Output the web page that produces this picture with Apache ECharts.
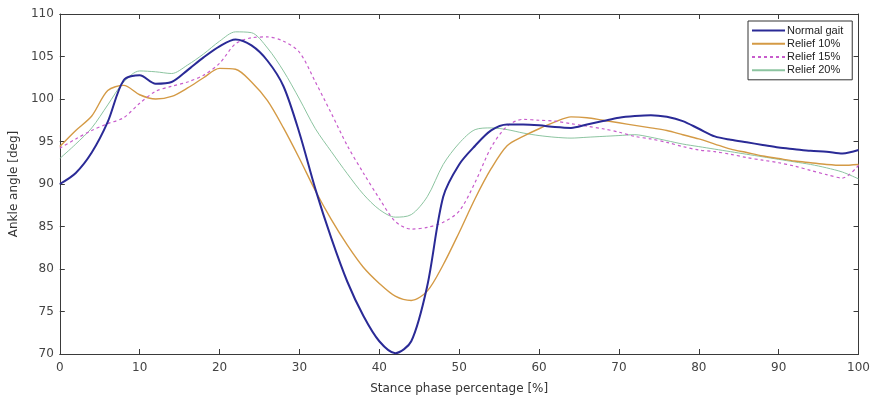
<!DOCTYPE html>
<html>
<head>
<meta charset="utf-8">
<title>Ankle angle</title>
<script src="https://cdn.jsdelivr.net/npm/echarts@6/dist/echarts.min.js"></script>
<style>
  html, body { margin: 0; padding: 0; background: #fff; }
  #chart { width: 873px; height: 402px; }
</style>
</head>
<body>
<div id="chart"></div>
<script>
// stance phase [%], sampled every 2 %
const pct = [0, 2, 4, 6, 8, 10, 12, 14, 16, 18, 20, 22, 24, 26, 28, 30, 32, 34, 36, 38, 40,
  42, 44, 46, 48, 50, 52, 54, 56, 58, 60, 62, 64, 66, 68, 70, 72, 74, 76, 78, 80,
  82, 84, 86, 88, 90, 92, 94, 96, 98, 100];

const normalGait = [90, 91.3, 93.7, 97.3, 102.2, 102.8, 101.8, 102, 103.4, 104.9, 106.2, 107, 106.3, 104.5, 101.5, 96, 89.4, 83.6, 78.5, 74.5, 71.5,
  70.1, 71.5, 78, 88.5, 92.3, 94.5, 96.3, 97, 97, 96.9, 96.7, 96.6, 97, 97.4, 97.8, 98, 98.1, 97.9, 97.4, 96.5,
  95.6, 95.2, 94.9, 94.6, 94.3, 94.1, 93.9, 93.8, 93.6, 94];

const relief10 = [94.4, 96.3, 98, 101, 101.6, 100.5, 100, 100.3, 101.3, 102.5, 103.6, 103.5, 102, 99.8, 96.6, 93, 89.2, 85.8, 82.8, 80.2, 78.3,
  76.8, 76.3, 77.4, 80.5, 84.3, 88.3, 91.8, 94.5, 95.6, 96.5, 97.3, 97.9, 97.8, 97.5, 97.2, 96.9, 96.6, 96.3, 95.8, 95.3,
  94.7, 94.1, 93.7, 93.3, 93, 92.7, 92.5, 92.3, 92.2, 92.3];

const relief15 = [94.2, 95.3, 96.3, 97.1, 97.8, 99.5, 100.9, 101.5, 102, 102.8, 104.2, 106.5, 107.2, 107.3, 106.8, 105.5, 102, 98.3, 94.5, 91.3, 88.3,
  85.6, 84.7, 84.9, 85.5, 86.8, 90.2, 94.3, 96.8, 97.6, 97.5, 97.4, 97.1, 96.8, 96.5, 96.1, 95.6, 95.3, 94.9, 94.4, 94,
  93.8, 93.5, 93.1, 92.8, 92.5, 92.1, 91.6, 91.1, 90.7, 92.2];

const relief20 = [93, 94.7, 96.6, 99.3, 102, 103.3, 103.2, 103, 104, 105.3, 106.8, 107.9, 107.8, 106, 103.3, 100, 96.5, 93.8, 91.2, 88.8, 87,
  86.1, 86.4, 88.5, 92.3, 94.8, 96.4, 96.6, 96.4, 96, 95.7, 95.5, 95.4, 95.5, 95.6, 95.7, 95.8, 95.5, 95.1, 94.7, 94.4,
  94.1, 93.8, 93.5, 93.2, 92.9, 92.6, 92.3, 91.9, 91.4, 90.6];

const names = ["Normal gait", "Relief 10%", "Relief 15%", "Relief 20%"];

const pairs = (vals) => pct.map((p, i) => [p, vals[i]]);

const font = "DejaVu Sans, Verdana, sans-serif";
const legendFont = "Liberation Sans, Arial, sans-serif";
const boxColor = "#3a3a3a";

const chart = echarts.init(document.getElementById("chart"));

const baseX = {
  type: "value",
  min: 0,
  max: 100,
  interval: 10,
  splitLine: { show: false },
  axisLine: { show: true, onZero: false, lineStyle: { color: boxColor, width: 1 } },
  axisTick: { show: true, inside: true, length: 5, lineStyle: { color: boxColor } }
};
const baseY = {
  type: "value",
  min: 70,
  max: 110,
  interval: 5,
  splitLine: { show: false },
  axisLine: { show: true, onZero: false, lineStyle: { color: boxColor, width: 1 } },
  axisTick: { show: true, inside: true, length: 5, lineStyle: { color: boxColor } }
};

const option = {
  backgroundColor: "#fff",
  animation: false,
  grid: { left: 59, right: 11, top: 14, bottom: 48 },
  legend: {
    orient: "vertical",
    left: 748,
    top: 21,
    padding: [4, 9, 4, 3],
    itemGap: 2,
    itemWidth: 33,
    itemHeight: 14,
    itemStyle: { opacity: 0 },
    backgroundColor: "#fff",
    borderColor: "#333",
    borderWidth: 1,
    borderRadius: 0,
    textStyle: { fontFamily: legendFont, fontSize: 11, color: "#222", padding: [0, 0, 0, -3] },
    data: names
  },
  xAxis: [
    Object.assign({}, baseX, {
      position: "bottom",
      name: "Stance phase percentage [%]",
      nameLocation: "middle",
      nameGap: 29,
      nameTextStyle: { fontFamily: font, fontSize: 12, color: "#333" },
      axisLabel: { fontFamily: font, fontSize: 12, color: "#444", margin: 8 }
    }),
    Object.assign({}, baseX, { position: "top", axisLabel: { show: false } })
  ],
  yAxis: [
    Object.assign({}, baseY, {
      position: "left",
      name: "Ankle angle [deg]",
      nameLocation: "middle",
      nameGap: 26,
      nameTextStyle: { fontFamily: font, fontSize: 12, color: "#333" },
      axisLabel: { fontFamily: font, fontSize: 12, color: "#444", margin: 6 }
    }),
    Object.assign({}, baseY, { position: "right", axisLabel: { show: false } })
  ],
  series: [
    {
      name: names[0], type: "line", symbol: "none", smooth: 0.3,
      lineStyle: { color: "#2a2a96", width: 2 }, itemStyle: { color: "#2a2a96" },
      data: pairs(normalGait), z: 5
    },
    {
      name: names[1], type: "line", symbol: "none", smooth: 0.3,
      lineStyle: { color: "#d49a45", width: 1.4 }, itemStyle: { color: "#d49a45" },
      data: pairs(relief10), z: 3
    },
    {
      name: names[2], type: "line", symbol: "none", smooth: 0.3,
      lineStyle: { color: "#c85ccc", width: 1.2, type: [3, 3] }, itemStyle: { color: "#c85ccc" },
      data: pairs(relief15), z: 4
    },
    {
      name: names[3], type: "line", symbol: "none", smooth: 0.3,
      lineStyle: { color: "#8cc4a0", width: 1 }, itemStyle: { color: "#8cc4a0" },
      data: pairs(relief20), z: 2
    }
  ]
};

chart.setOption(option);
</script>
</body>
</html>
